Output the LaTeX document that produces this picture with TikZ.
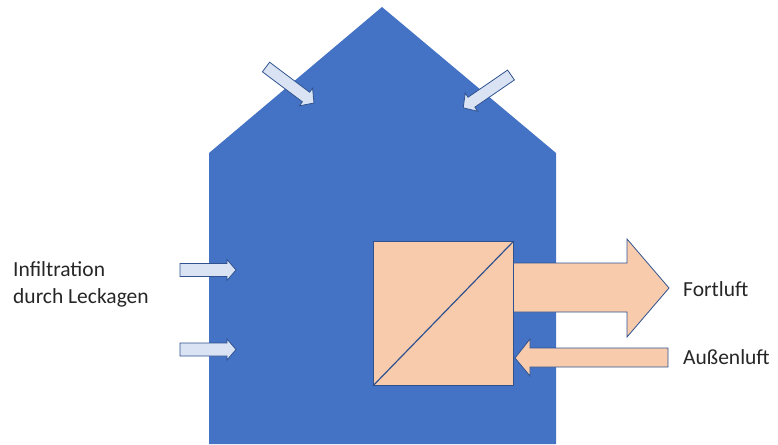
\documentclass[tikz,border=0pt]{standalone}
\usepackage{fontspec}
\setmainfont{Carlito}
\definecolor{houseblue}{HTML}{4472C4}
\definecolor{lightfill}{HTML}{DAE3F3}
\definecolor{edgeblue}{HTML}{2F528F}
\definecolor{peach}{HTML}{F8CBAD}
\tikzset{
  lightarrow/.style={fill=lightfill, draw=edgeblue, line width=0.8pt, line join=miter},
  peacharrow/.style={fill=peach, draw=edgeblue, line width=0.8pt, line join=miter},
  label/.style={font=\fontsize{21.5}{27}\selectfont, inner sep=0pt, anchor=base west, align=left, text=black!85},
  pics/blockarrow/.style args={#1/#2/#3/#4}{code={
    \draw[pic actions] (0,-#2) -- (#1-#4,-#2) -- (#1-#4,-#3) -- (#1,0) -- (#1-#4,#3) -- (#1-#4,#2) -- (0,#2) -- cycle;}}
}
\begin{document}
\begin{tikzpicture}[x=1pt,y=-1pt]
\useasboundingbox (0,0) rectangle (778,444);
% house
\fill[houseblue] (209,444) -- (209,153) -- (382,7) -- (556,153) -- (556,444) -- cycle;
% infiltration arrows
\pic[lightarrow] at (180,270) {blockarrow=56/6.5/10.5/9};
\pic[lightarrow] at (180,349.5) {blockarrow=56/6.5/10.5/9};
\pic[lightarrow, rotate=-36.9] at (266,67) {blockarrow=60/6/11/10};
\pic[lightarrow, rotate=-145.5] at (511,75) {blockarrow=58/6/11/10};
% heat exchanger
\draw[peacharrow] (513,263) -- (627,263) -- (627,239) -- (669,288) -- (627,337) -- (627,312) -- (513,312) -- cycle;
\draw[peacharrow] (668,348) -- (530,348) -- (530,339) -- (515,358) -- (530,376) -- (530,367) -- (668,367) -- cycle;
\node[fill=peach, draw=edgeblue, line width=0.8pt, minimum width=140pt, minimum height=144pt, inner sep=0pt, anchor=north west] (hx) at (373,241) {};
\draw[edgeblue, line width=1.2pt] (hx.south west) -- (hx.north east);
% labels
\node[label] (infil) at (13,303) {Infiltration\\durch Leckagen};
\node[label] (fort) at (683,296) {Fortluft};
\node[label] (aussen) at (683,364) {Außenluft};
\end{tikzpicture}
\end{document}
